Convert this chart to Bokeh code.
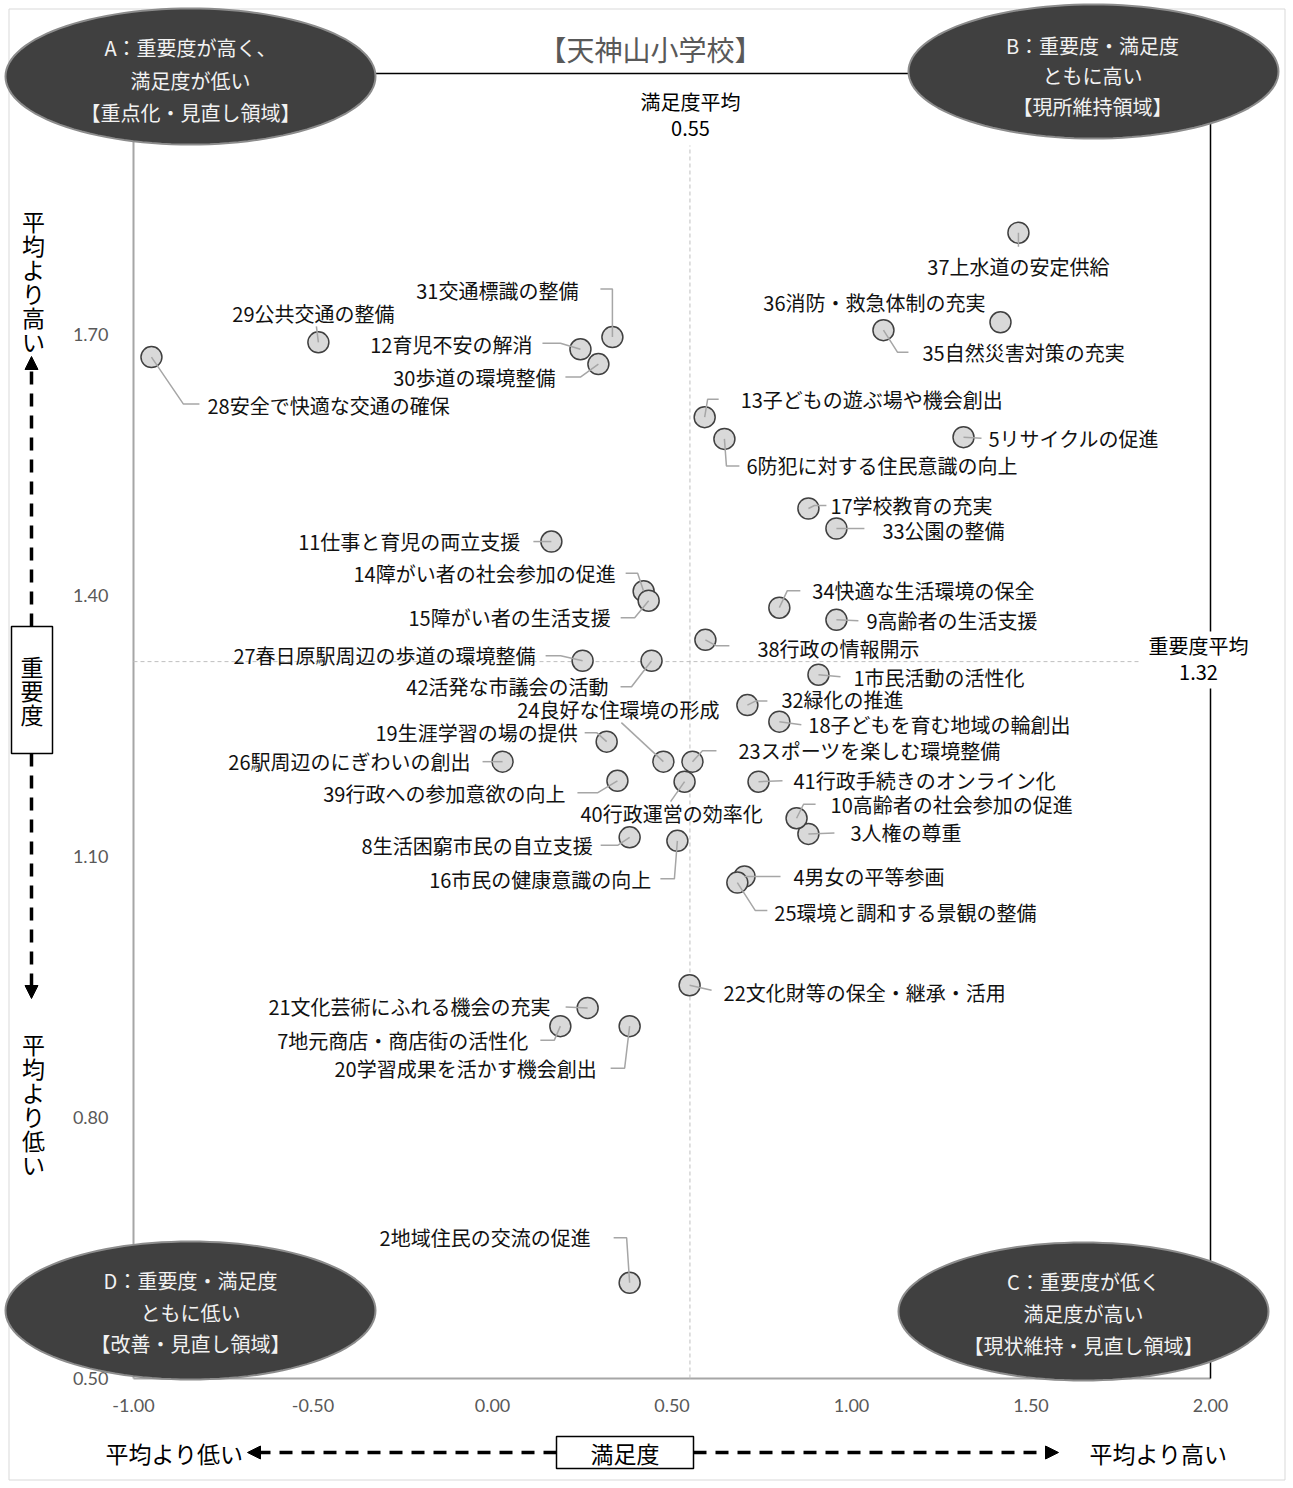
import numpy as np
from bokeh.plotting import figure
from bokeh.models import (ColumnDataSource, LabelSet, Label, PolyAnnotation, Arrow,
                          NormalHead, LinearAxis, FixedTicker, NumeralTickFormatter, Range1d)
from bokeh.core.properties import value
from bokeh.embed import file_html
from bokeh.resources import INLINE

# ---------------- data ----------------
item_no = list(range(1, 43))
item_name = [
    "市民活動の活性化", "地域住民の交流の促進", "人権の尊重", "男女の平等参画", "リサイクルの促進",
    "防犯に対する住民意識の向上", "地元商店・商店街の活性化", "生活困窮市民の自立支援", "高齢者の生活支援",
    "高齢者の社会参加の促進", "仕事と育児の両立支援", "育児不安の解消", "子どもの遊ぶ場や機会創出",
    "障がい者の社会参加の促進", "障がい者の生活支援", "市民の健康意識の向上", "学校教育の充実",
    "子どもを育む地域の輪創出", "生涯学習の場の提供", "学習成果を活かす機会創出", "文化芸術にふれる機会の充実",
    "文化財等の保全・継承・活用", "スポーツを楽しむ環境整備", "良好な住環境の形成", "環境と調和する景観の整備",
    "駅周辺のにぎわいの創出", "春日原駅周辺の歩道の環境整備", "安全で快適な交通の確保", "公共交通の整備",
    "歩道の環境整備", "交通標識の整備", "緑化の推進", "公園の整備", "快適な生活環境の保全",
    "自然災害対策の充実", "消防・救急体制の充実", "上水道の安定供給", "行政の情報開示",
    "行政への参加意欲の向上", "行政運営の効率化", "行政手続きのオンライン化", "活発な市議会の活動",
]
satisfaction = [
    0.908, 0.382, 0.880, 0.702, 1.312, 0.646, 0.189, 0.382, 0.958, 0.847,
    0.164, 0.245, 0.591, 0.421, 0.435, 0.515, 0.880, 0.799, 0.318, 0.382,
    0.265, 0.549, 0.557, 0.476, 0.682, 0.028, 0.251, -0.950, -0.485, 0.295,
    0.334, 0.710, 0.958, 0.799, 1.089, 1.415, 1.465, 0.593, 0.348, 0.535,
    0.741, 0.443,
]
importance = [
    1.309, 0.610, 1.126, 1.077, 1.582, 1.580, 0.905, 1.122, 1.372, 1.144,
    1.462, 1.683, 1.605, 1.405, 1.394, 1.118, 1.500, 1.255, 1.232, 0.905,
    0.926, 0.952, 1.209, 1.209, 1.070, 1.209, 1.325, 1.674, 1.691, 1.666,
    1.697, 1.274, 1.477, 1.386, 1.705, 1.714, 1.817, 1.349, 1.187, 1.186,
    1.186, 1.325,
]
sat_avg = 0.55
imp_avg = 1.324
x_ticks = [-1.0, -0.5, 0.0, 0.5, 1.0, 1.5, 2.0]
y_ticks = [0.5, 0.8, 1.1, 1.4, 1.7]
XMIN, XMAX = -1.0, 2.0
YMIN, YMAX = 0.5, 2.0

# ---------------- layout (screen px) ----------------
W, H = 1293, 1488
PL, PT, PR, PB = 133, 73, 1210, 1378     # plot area on the canvas
KX = (PR - PL) / (XMAX - XMIN)
KY = (PB - PT) / (YMAX - YMIN)


def gx(px):
    return XMIN + (px - PL) / KX


def gy(py):
    return YMIN + (PB - py) / KY


# label placement: align, dx, dy (px, screen down positive), leader polyline offsets
LAYOUT = {
    1: ("left", 35, 3, [(0, 0), (22, 2)]),
    2: ("right", -39, -45, [(0, 0), (-3, -45), (-16, -45)]),
    3: ("left", 42, -1, [(0, 0), (26, -1)]),
    4: ("left", 49, 0, [(0, 0), (36, 0)]),
    5: ("left", 25, 1, [(0, 0), (18, 1)]),
    6: ("left", 22, 27, [(0, 0), (2, 27), (15, 27)]),
    7: ("right", -32, 14, [(0, 0), (-6, 14), (-20, 14)]),
    8: ("right", -37, 8, [(0, 0), (-12, 8), (-29, 8)]),
    9: ("left", 30, 1, [(0, 0), (22, 1)]),
    10: ("left", 34, -14, [(0, 0), (7, -14), (19, -14)]),
    11: ("right", -31, 0, [(0, 0), (-18, 0)]),
    12: ("right", -48, -5, [(0, 0), (-20, -6), (-38, -6)]),
    13: ("left", 36, -18, [(0, 0), (3, -18), (14, -18)]),
    14: ("right", -28, -18, [(0, 0), (-6, -18), (-18, -18)]),
    15: ("right", -38, 17, [(0, 0), (-14, 17), (-28, 17)]),
    16: ("right", -26, 39, [(0, 0), (-3, 38), (-17, 38)]),
    17: ("left", 22, -3, [(0, 0), (6, -3), (18, -3)]),
    18: ("left", 29, 3, [(0, 0), (22, 3)]),
    19: ("right", -29, -9, [(0, 0), (-10, -9), (-22, -9)]),
    20: ("right", -33, 42, [(0, 0), (-5, 42), (-19, 42)]),
    21: ("right", -37, -1, [(0, 0), (-22, -1)]),
    22: ("left", 34, 7, [(0, 0), (22, 5)]),
    23: ("left", 46, -11, [(0, 0), (10, -11), (24, -11)]),
    24: ("center", -45, -52, [(0, 0), (-42, -39)]),
    25: ("left", 37, 30, [(0, 0), (18, 28), (30, 28)]),
    26: ("right", -32, 0, [(0, 0), (-20, 0)]),
    27: ("right", -47, -5, [(0, 0), (-22, -5), (-37, -5)]),
    28: ("left", 56, 48, [(0, 0), (32, 47), (48, 47)]),
    29: ("center", -5, -29, [(0, 0), (-2, -16)]),
    30: ("right", -43, 13, [(0, 0), (-18, 13), (-33, 13)]),
    31: ("right", -34, -47, [(0, 0), (0, -48), (-12, -48)]),
    32: ("left", 34, -6, [(0, 0), (8, -4), (20, -4)]),
    33: ("left", 46, 2, [(0, 0), (28, 0)]),
    34: ("left", 33, -17, [(0, 0), (8, -17), (21, -17)]),
    35: ("left", 39, 22, [(0, 0), (14, 22), (25, 22)]),
    36: ("right", -15, -20, []),
    37: ("center", 0, 34, [(0, 0), (0, 14)]),
    38: ("left", 52, 9, [(0, 0), (11, 6), (24, 6)]),
    39: ("right", -52, 13, [(0, 0), (-20, 12), (-40, 12)]),
    40: ("center", -13, 32, [(0, 0), (-14, 20)]),
    41: ("left", 35, -1, [(0, 0), (24, -1)]),
    42: ("right", -43, 26, [(0, 0), (-20, 26), (-31, 26)]),
}

JP = "Noto Sans CJK JP"

p = figure(width=W, height=H, x_range=Range1d(gx(0), gx(W)), y_range=Range1d(gy(H), gy(0)),
           x_axis_type=None, y_axis_type=None, title=None,
           output_backend="svg", toolbar_location=None, min_border=0,
           background_fill_color="white", border_fill_color="white")
p.outline_line_color = None
p.xgrid.visible = False
p.ygrid.visible = False


def make_axis(ticks, fixed, bounds, color, width, standoff):
    return LinearAxis(ticker=FixedTicker(ticks=ticks), formatter=NumeralTickFormatter(format="0.00"),
                      fixed_location=fixed, bounds=bounds,
                      axis_line_color=color, axis_line_width=width,
                      major_tick_line_color=None, minor_tick_line_color=None,
                      major_tick_out=0, major_tick_in=0, minor_tick_out=0, minor_tick_in=0,
                      major_label_text_color="#595959", major_label_text_font="Lato",
                      major_label_text_font_size="18px", major_label_standoff=standoff,
                      level="underlay")


p.add_layout(make_axis(x_ticks, YMIN, (XMIN, XMAX), "#a6a6a6", 2, 20), "below")
p.add_layout(make_axis(y_ticks, XMIN, (YMIN, YMAX), "#a6a6a6", 2, 25), "left")
p.add_layout(make_axis([], XMAX, (YMIN, YMAX), "black", 1.5, 0), "right")
p.add_layout(make_axis([], YMAX, (XMIN, XMAX), "black", 1.5, 0), "above")

# mean reference lines
p.segment(x0=[sat_avg], y0=[YMIN], x1=[sat_avg], y1=[gy(145)],
          line_color="#bfbfbf", line_width=1, line_dash="4 3")
p.segment(x0=[XMIN], y0=[imp_avg], x1=[gx(1140)], y1=[imp_avg],
          line_color="#bfbfbf", line_width=1, line_dash="4 3")

src = ColumnDataSource(dict(x=satisfaction, y=importance,
                            label=[f"{n}{s}" for n, s in zip(item_no, item_name)]))
p.scatter(x="x", y="y", source=src, marker="circle", size=21,
          fill_color="#d9d9d9", line_color="#404040", line_width=1.5)

# leader lines
lx, ly = [], []
for n, x, y in zip(item_no, satisfaction, importance):
    pts = LAYOUT[n][3]
    if pts:
        lx.append([x + ox / KX for ox, oy in pts])
        ly.append([y - oy / KY for ox, oy in pts])
p.multi_line(xs=lx, ys=ly, line_color="#a6a6a6", line_width=1.5)

# point labels
for align in ("left", "right", "center"):
    d = dict(x=[], y=[], label=[], dx=[], dy=[])
    for n, s, x, y in zip(item_no, item_name, satisfaction, importance):
        a, dx, dy, _ = LAYOUT[n]
        if a == align:
            d["x"].append(x)
            d["y"].append(y)
            d["label"].append(f"{n}{s}")
            d["dx"].append(dx)
            d["dy"].append(-dy)
    ls = LabelSet(x="x", y="y", text="label", x_offset="dx", y_offset="dy",
                  source=ColumnDataSource(d), text_align=align, text_baseline="middle",
                  text_font=value(JP), text_font_size="20px", text_color="#111111")
    p.add_layout(ls)


def lab(px, py, text, size=20, color="black", align="center", bg=None):
    p.add_layout(Label(x=gx(px), y=gy(py), text=text, text_align=align, text_baseline="middle",
                       text_font=JP, text_font_size=f"{size}px", text_color=color,
                       background_fill_color=bg, background_fill_alpha=1.0 if bg else 0.0))


def lines(px, pys, texts, size=20, color="black", bg=None):
    for py, tx in zip(pys, texts):
        lab(px, py, tx, size=size, color=color, bg=bg)


def rect(x0, y0, x1, y1, fill="white", line="black", lw=1.5):
    p.add_layout(PolyAnnotation(xs=[gx(x0), gx(x1), gx(x1), gx(x0)],
                                ys=[gy(y0), gy(y0), gy(y1), gy(y1)],
                                fill_color=fill, fill_alpha=1.0 if fill else 0.0,
                                line_color=line, line_alpha=1.0, line_width=lw))


# outer chart border
rect(8.5, 8.5, 1284.5, 1479.5, fill=None, line="#d9d9d9", lw=1)

# mean labels & title
lines(690, [101, 128], ["満足度平均", f"{sat_avg:.2f}"], bg="white")
rect(1140, 631, 1256, 688, fill="white", line=None, lw=0)
lines(1198, [645, 672], ["重要度平均", f"{imp_avg:.2f}"])
lab(650, 48, "【天神山小学校】", size=28, color="#595959")

# quadrant ellipses
t = np.linspace(0, 2 * np.pi, 121)
quads = [
    (190, 76, 185, 68, ["A：重要度が高く、", "満足度が低い", "【重点化・見直し領域】"], 190, [47, 80, 112]),
    (1093, 71, 185, 67, ["B：重要度・満足度", "ともに高い", "【現所維持領域】"], 1092, [45, 75, 106]),
    (190, 1310, 185, 69, ["D：重要度・満足度", "ともに低い", "【改善・見直し領域】"], 190, [1280, 1312, 1343]),
    (1083, 1311, 185, 69, ["C：重要度が低く", "満足度が高い", "【現状維持・見直し領域】"], 1083, [1281, 1313, 1345]),
]
for cx, cy, rx, ry, txts, tx, tys in quads:
    p.add_layout(PolyAnnotation(xs=[gx(cx + rx * np.cos(a)) for a in t],
                                ys=[gy(cy + ry * np.sin(a)) for a in t],
                                fill_color="#404040", fill_alpha=1.0,
                                line_color="#8c8c8c", line_alpha=1.0, line_width=2))
    lines(tx, tys, txts, size=20, color="#f2f2f2")

# left (importance) guide
head = dict(size=13, fill_color="black", line_color="black", line_width=1)
p.add_layout(Arrow(x_start=gx(31), y_start=gy(626), x_end=gx(31), y_end=gy(356),
                   line_width=3.5, line_dash="13 9", line_color="black", end=NormalHead(**head)))
p.add_layout(Arrow(x_start=gx(31), y_start=gy(753), x_end=gx(31), y_end=gy(998),
                   line_width=3.5, line_dash="13 9", line_color="black", end=NormalHead(**head)))
rect(11, 626, 52, 753)
lines(31.5, [665, 689, 713], list("重要度"), size=23)
lines(33, [220, 244, 268, 292, 316, 340], list("平均より高い"), size=23)
lines(33, [1043, 1067, 1091, 1115, 1139, 1163], list("平均より低い"), size=23)

# bottom (satisfaction) guide
p.add_layout(Arrow(x_start=gx(556), y_start=gy(1452), x_end=gx(247), y_end=gy(1452),
                   line_width=3.5, line_dash="13 9", line_color="black", end=NormalHead(**head)))
p.add_layout(Arrow(x_start=gx(693), y_start=gy(1452), x_end=gx(1058), y_end=gy(1452),
                   line_width=3.5, line_dash="13 9", line_color="black", end=NormalHead(**head)))
rect(556, 1436, 693, 1468)
lab(624.5, 1452, "満足度", size=23)
lab(174, 1452, "平均より低い", size=23)
lab(1158, 1452, "平均より高い", size=23)

open("out.html", "w").write(file_html(p, INLINE))
